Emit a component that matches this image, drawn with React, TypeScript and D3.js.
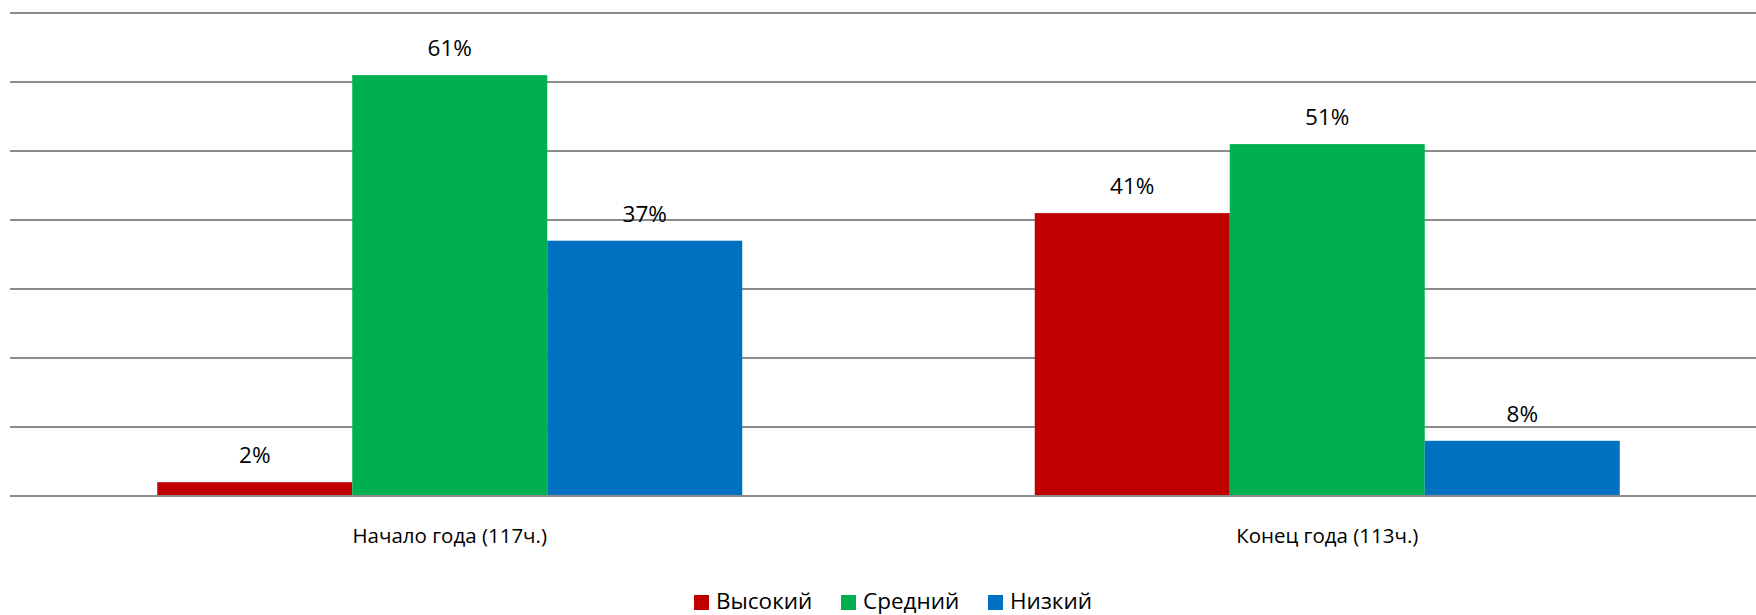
import React from "react";
import * as d3 from "d3";

const categories = ["Начало года (117ч.)", "Конец года (113ч.)"];
const seriesNames = ["Высокий", "Средний", "Низкий"];
const seriesColors = ["#C00000", "#00B050", "#0070C0"];
const valuesHigh = [0.02, 0.41];
const valuesMid = [0.61, 0.51];
const valuesLow = [0.37, 0.08];
const seriesValues = [valuesHigh, valuesMid, valuesLow];
const gridTicks = [0, 0.1, 0.2, 0.3, 0.4, 0.5, 0.6, 0.7];

const W = 1756;
const H = 615;
const FONT = "'Open Sans', 'Noto Sans', sans-serif";

export default function App() {
  const x0 = d3.scaleBand<string>().domain(categories).range([11, 1766]).padding(0);
  const step = x0.step();
  const x1 = d3
    .scaleBand<string>()
    .domain(seriesNames)
    .range([step / 6, (step * 5) / 6])
    .padding(0);
  const y = d3.scaleLinear().domain([0, 0.7]).range([496, 13]);
  const fmt = d3.format(".0%");

  const legendX = [694, 841, 988];

  return (
    <svg
      width={W}
      height={H}
      style={{ position: "absolute", left: 0, top: 0, background: "#fff" }}
      fontFamily={FONT}
    >
      <rect x={0} y={0} width={W} height={H} fill="#ffffff" />
      {gridTicks.slice(1).map((t) => (
        <line
          key={t}
          x1={10}
          x2={W}
          y1={y(t)}
          y2={y(t)}
          stroke="#8c8c8c"
          strokeWidth={2}
        />
      ))}
      {categories.map((c, ci) => (
        <g key={c} transform={`translate(${x0(c)},0)`}>
          {seriesNames.map((s, si) => {
            const v = seriesValues[si][ci];
            const bx = x1(s)!;
            return (
              <g key={s}>
                <rect
                  x={bx}
                  y={y(v)}
                  width={x1.bandwidth()}
                  height={y(0) - y(v)}
                  fill={seriesColors[si]}
                />
                <text
                  x={bx + x1.bandwidth() / 2}
                  y={y(v) - 19}
                  textAnchor="middle"
                  fontSize={22.5}
                  fill="#000"
                >
                  {fmt(v)}
                </text>
              </g>
            );
          })}
          <text
            x={step / 2}
            y={543}
            textAnchor="middle"
            fontSize={20.5}
            fill="#000"
          >
            {c}
          </text>
        </g>
      ))}
      <line x1={10} x2={W} y1={y(0)} y2={y(0)} stroke="#8c8c8c" strokeWidth={2} />
      {seriesNames.map((s, si) => (
        <g key={s}>
          <rect x={legendX[si]} y={595} width={15} height={15} fill={seriesColors[si]} />
          <text x={legendX[si] + 22} y={609} fontSize={22.5} fill="#000">
            {s}
          </text>
        </g>
      ))}
    </svg>
  );
}
